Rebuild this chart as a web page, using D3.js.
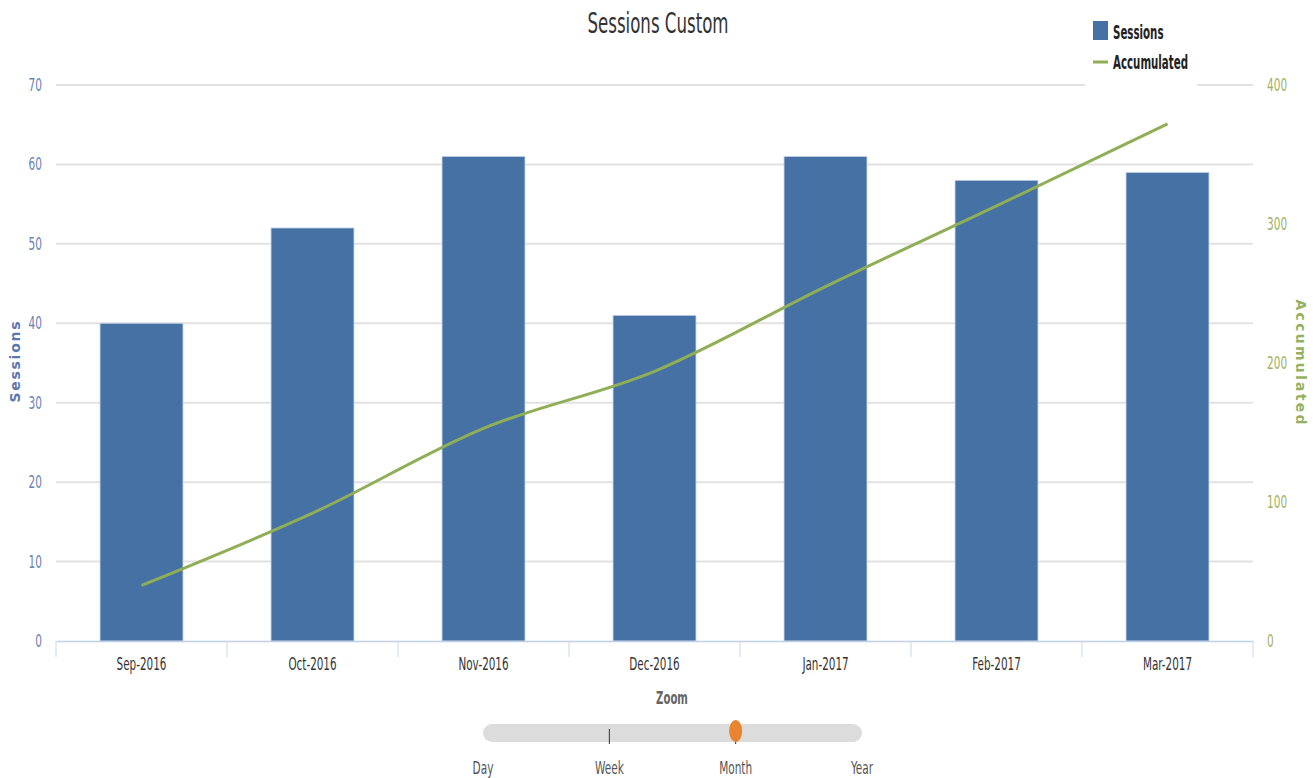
<!DOCTYPE html>
<html>
<head>
<meta charset="utf-8">
<script src="https://cdn.jsdelivr.net/npm/d3@7/dist/d3.min.js"></script>
<style>
  html, body { margin: 0; padding: 0; background: #fff; }
  svg { display: block; }
  .narrow { font-family: "DejaVu Sans Condensed", "Liberation Sans Narrow", "Arial Narrow", sans-serif; }
</style>
</head>
<body>
<svg id="chart" width="1316" height="778"></svg>
<script>
// Monthly sessions and running total
const months = ["Sep-2016", "Oct-2016", "Nov-2016", "Dec-2016", "Jan-2017", "Feb-2017", "Mar-2017"];
const sessions = [40, 52, 61, 41, 61, 58, 59];
const accumulated = [40, 92, 153, 194, 255, 313, 372];
const sessionTicks = [0, 10, 20, 30, 40, 50, 60, 70];
const accumulatedTicks = [0, 100, 200, 300, 400];
const zoomLevels = ["Day", "Week", "Month", "Year"];
const zoomSelected = "Month";

const W = 1316, H = 778;
const plot = { left: 56, right: 1253, top: 85, bottom: 641 };

const svg = d3.select("#chart");

// Horizontally compress text to get a condensed face
function squeeze(sel, f) {
  sel.each(function () {
    const t = d3.select(this);
    const x = +t.attr("x") || 0;
    t.attr("x", x / f).attr("transform", `scale(${f},1)`);
  });
  return sel;
}

const x = d3.scaleBand().domain(months).range([plot.left, plot.right]).paddingInner(0.515).paddingOuter(0.2575);
const xBand = d3.scaleBand().domain(months).range([plot.left, plot.right]);
const yL = d3.scaleLinear().domain([0, 70]).range([plot.bottom, plot.top]);
const yR = d3.scaleLinear().domain([0, 400]).range([plot.bottom, plot.top]);

// Title
svg.append("text").attr("class", "narrow")
  .attr("x", 658).attr("y", 33).attr("text-anchor", "middle")
  .attr("font-size", 28).attr("fill", "#333")
  .text("Sessions Custom")
  .call(squeeze, 0.66);

// Gridlines
svg.append("g").selectAll("line").data(sessionTicks.filter(d => d > 0)).join("line")
  .attr("x1", plot.left).attr("x2", plot.right)
  .attr("y1", d => yL(d)).attr("y2", d => yL(d))
  .attr("stroke", "#e2e2e2").attr("stroke-width", 2);

// Left axis
const leftAxis = svg.append("g").attr("transform", `translate(${plot.left},0)`)
  .call(d3.axisLeft(yL).tickValues(sessionTicks).tickSize(0).tickPadding(14));
leftAxis.select(".domain").remove();
leftAxis.selectAll("text").attr("class", "narrow").attr("font-size", 17).attr("fill", "#6b82b3")
  .call(squeeze, 0.69);

// Right axis
const rightAxis = svg.append("g").attr("transform", `translate(${plot.right},0)`)
  .call(d3.axisRight(yR).tickValues(accumulatedTicks).tickSize(0).tickPadding(14));
rightAxis.select(".domain").remove();
rightAxis.selectAll("text").attr("class", "narrow").attr("font-size", 17).attr("fill", "#a3b05e")
  .call(squeeze, 0.69);

// Axis titles
svg.append("text")
  .attr("transform", `translate(20,362) rotate(-90)`)
  .attr("text-anchor", "middle").attr("font-family", "DejaVu Sans, Verdana, sans-serif")
  .attr("font-size", 14).attr("font-weight", "bold").attr("fill", "#5a78b0")
  .attr("textLength", 81).attr("lengthAdjust", "spacing")
  .text("Sessions");
svg.append("text")
  .attr("transform", `translate(1296,362) rotate(90)`)
  .attr("text-anchor", "middle").attr("font-family", "DejaVu Sans, Verdana, sans-serif")
  .attr("font-size", 14).attr("font-weight", "bold").attr("fill", "#94b060")
  .attr("textLength", 125).attr("lengthAdjust", "spacing")
  .text("Accumulated");

// Bars
svg.append("g").selectAll("rect").data(months).join("rect")
  .attr("x", (d) => x(d)).attr("width", x.bandwidth())
  .attr("y", (d, i) => yL(sessions[i])).attr("height", (d, i) => yL(0) - yL(sessions[i]))
  .attr("fill", "#4571a5").attr("stroke", "#c4d3e8").attr("stroke-width", 0.8);

// X axis
const bottomAxis = svg.append("g").attr("transform", `translate(0,${plot.bottom})`)
  .call(d3.axisBottom(xBand).tickSize(0).tickPadding(17));
bottomAxis.select(".domain").attr("stroke", "#c0d0e6").attr("stroke-width", 1.5);
bottomAxis.selectAll("text").attr("class", "narrow").attr("font-size", 17).attr("fill", "#333")
  .call(squeeze, 0.68);
const edges = months.map(m => xBand(m)).concat([plot.right]);
svg.append("g").selectAll("line").data(edges).join("line")
  .attr("x1", d => d).attr("x2", d => d)
  .attr("y1", plot.bottom).attr("y2", plot.bottom + 16)
  .attr("stroke", "#c8d6ea").attr("stroke-width", 1);

// Accumulated line
const line = d3.line()
  .x((d, i) => xBand(months[i]) + xBand.bandwidth() / 2)
  .y(d => yR(d))
  .curve(d3.curveMonotoneX);
svg.append("path").datum(accumulated)
  .attr("d", line).attr("fill", "none")
  .attr("stroke", "#8fae55").attr("stroke-width", 3);

// Legend
const legend = svg.append("g");
legend.append("rect").attr("x", 1085).attr("y", 15).attr("width", 112).attr("height", 76).attr("fill", "#fff");
legend.append("rect").attr("x", 1093).attr("y", 21).attr("width", 15).attr("height", 19)
  .attr("fill", "#4571a5");
legend.append("text").attr("class", "narrow").attr("x", 1113).attr("y", 39)
  .attr("font-size", 19).attr("font-weight", "bold").attr("fill", "#222").text("Sessions")
  .call(squeeze, 0.6);
legend.append("line").attr("x1", 1093).attr("x2", 1108).attr("y1", 62).attr("y2", 62)
  .attr("stroke", "#8fae55").attr("stroke-width", 3);
legend.append("text").attr("class", "narrow").attr("x", 1113).attr("y", 69)
  .attr("font-size", 19).attr("font-weight", "bold").attr("fill", "#222").text("Accumulated")
  .call(squeeze, 0.6);

// Zoom slider
const zx = d3.scalePoint().domain(zoomLevels).range([483, 862]);
svg.append("text").attr("class", "narrow").attr("x", 672).attr("y", 704).attr("text-anchor", "middle")
  .attr("font-size", 18).attr("font-weight", "bold").attr("fill", "#666").text("Zoom")
  .call(squeeze, 0.625);
svg.append("rect").attr("x", 483).attr("y", 724).attr("width", 379).attr("height", 18).attr("rx", 9)
  .attr("fill", "#dcdcdc");
svg.append("g").selectAll("line").data(zoomLevels.slice(1, 3)).join("line")
  .attr("x1", d => zx(d)).attr("x2", d => zx(d)).attr("y1", 729).attr("y2", 744)
  .attr("stroke", "#333").attr("stroke-width", 1);
svg.append("ellipse").attr("cx", zx(zoomSelected)).attr("cy", 731).attr("rx", 6.5).attr("ry", 11)
  .attr("fill", "#e8832f");
svg.append("g").selectAll("text").data(zoomLevels).join("text").attr("class", "narrow")
  .attr("x", d => zx(d)).attr("y", 774).attr("text-anchor", "middle")
  .attr("font-size", 17).attr("fill", "#555").text(d => d)
  .call(squeeze, 0.69);
</script>
</body>
</html>
